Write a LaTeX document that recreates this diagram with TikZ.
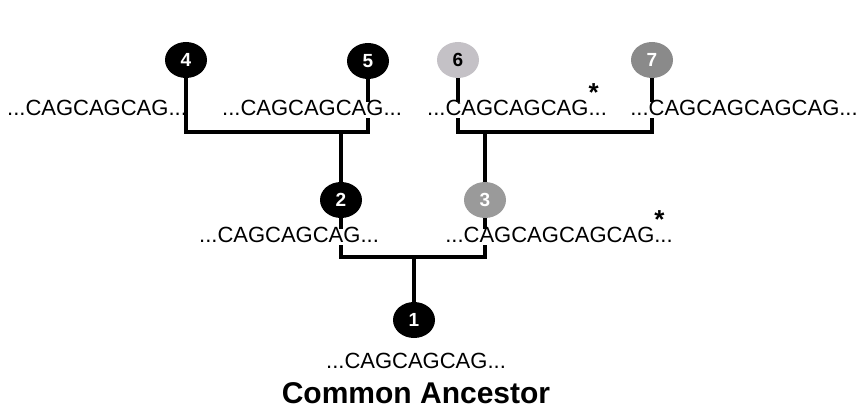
\documentclass[tikz,border=0pt]{standalone}
\usepackage{fontspec}
\setmainfont{Liberation Sans}
\usetikzlibrary{shapes.geometric}
\definecolor{palenode}{HTML}{C4C1C6}
\definecolor{darknode}{HTML}{8A8A8A}
\definecolor{midnode}{HTML}{9A9A9A}
\newcommand{\starmark}{\rlap{\raisebox{0.6em}{\fontsize{26}{26}\selectfont\bfseries *}}}
\tikzset{
  gen/.style={ellipse, minimum width=42pt, minimum height=36pt, inner sep=0pt,
    font=\fontsize{19}{19}\selectfont\bfseries},
  seq/.style={anchor=base, inner sep=0pt, font=\fontsize{22}{22}\selectfont},
  cut/.style={fill=white, text height=1em, inner ysep=3pt},
  bar/.style={line width=4.5pt}
}
\begin{document}
\begin{tikzpicture}[x=1pt, y=-1pt]
\useasboundingbox (0,0) rectangle (861,412);
% generations
\node[gen, fill=black, text=white] (4) at (186,60) {4};
\node[gen, fill=black, text=white] (5) at (368,61) {5};
\node[gen, fill=palenode, text=black] (6) at (458,60) {6};
\node[gen, fill=darknode, text=white] (7) at (652,60) {7};
\node[gen, fill=black, text=white] (2) at (341,200) {2};
\node[gen, fill=midnode, text=white] (3) at (485,200) {3};
\node[gen, fill=black, text=white] (1) at (414,320) {1};
\coordinate (m45) at (341,132);
\coordinate (m67) at (485,132);
\coordinate (m23) at (414,257);
% brackets
\draw[bar] (4) |- (m45) -| (5);
\draw[bar] (m45) -- (2);
\draw[bar] (6) |- (m67) -| (7);
\draw[bar] (m67) -- (3);
\draw[bar] (2) |- (m23) -| (3);
\draw[bar] (m23) -- (1);
% sequences
\node[seq] (s4) at (97,115) {...CAGCAGCAG...};
\node[seq, cut] (s5) at (312,115) {...CAGCAGCAG...};
\node[seq, cut] (s6) at (517,115) {...CAGCAGCAG\starmark...};
\node[seq, cut] (s7) at (744,115) {...CAGCAGCAGCAG...};
\node[seq, cut] (s2) at (289,242) {...CAGCAGCAG...};
\node[seq, cut] (s3) at (559,242) {...CAGCAGCAGCAG\starmark...};
\node[seq] (s1) at (416,368) {...CAGCAGCAG...};
\node[anchor=base, inner sep=0pt, font=\fontsize{30}{30}\selectfont\bfseries] (anc) at (416,403) {Common Ancestor};
\end{tikzpicture}
\end{document}
